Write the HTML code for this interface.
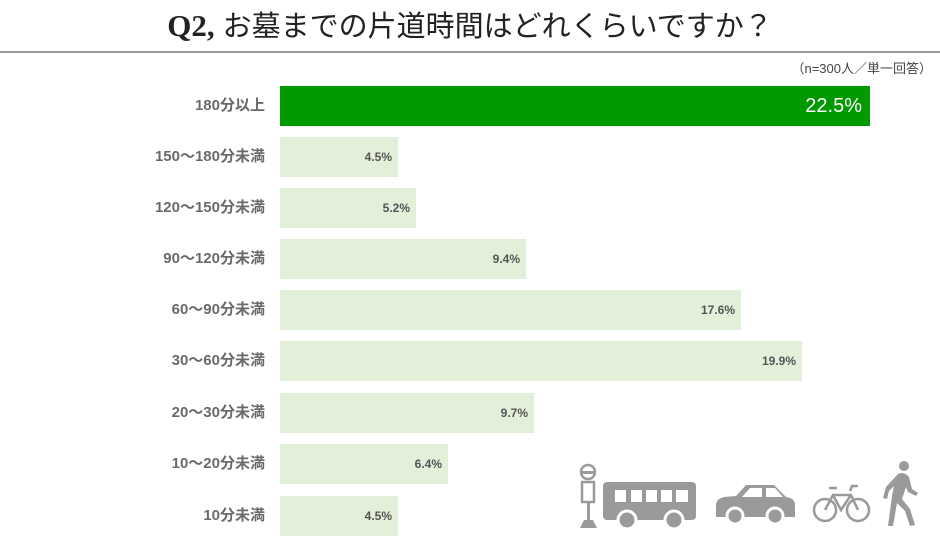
<!DOCTYPE html>
<html><head><meta charset="utf-8"><style>
body{margin:0;width:940px;height:546px;background:#fff;position:relative;overflow:hidden;font-family:"Liberation Sans","Noto Sans CJK JP",sans-serif}
.t{position:absolute;top:3px;left:0;width:940px;text-align:center;font-size:29px;color:#222;font-family:"Liberation Sans","Noto Sans CJK JP",sans-serif}
.t b{font-family:"Liberation Serif",serif;font-size:31px}
.hr{position:absolute;top:51px;left:0;width:940px;height:2px;background:#999}
.n{position:absolute;top:58px;right:8px;font-size:13px;color:#444}
.l{position:absolute;left:0;width:265px;text-align:right;font-size:15px;font-weight:bold;color:#6a6a6a;line-height:40px}
.b{position:absolute;left:280px;height:40px;background:#e2efd9;text-align:right;font-size:12px;font-weight:bold;color:#555;line-height:40px;box-sizing:border-box;padding-right:6px}
.g{background:#009900;color:#fff;font-size:20px;font-weight:normal;padding-right:8px}
</style></head><body>
<div class="t"><b>Q2,</b> お墓までの片道時間はどれくらいですか？</div>
<div class="hr"></div>
<div class="n">（n=300人／単一回答）</div>
<div class="l" style="top:86px">180分以上</div><div class="b g" style="top:86px;width:590px">22.5%</div>
<div class="l" style="top:137px">150～180分未満</div><div class="b" style="top:137px;width:118px">4.5%</div>
<div class="l" style="top:188px">120～150分未満</div><div class="b" style="top:188px;width:136px">5.2%</div>
<div class="l" style="top:239px">90～120分未満</div><div class="b" style="top:239px;width:246px">9.4%</div>
<div class="l" style="top:290px">60～90分未満</div><div class="b" style="top:290px;width:461px">17.6%</div>
<div class="l" style="top:341px">30～60分未満</div><div class="b" style="top:341px;width:522px">19.9%</div>
<div class="l" style="top:393px">20～30分未満</div><div class="b" style="top:393px;width:254px">9.7%</div>
<div class="l" style="top:444px">10～20分未満</div><div class="b" style="top:444px;width:168px">6.4%</div>
<div class="l" style="top:496px">10分未満</div><div class="b" style="top:496px;width:118px">4.5%</div>
<svg style="position:absolute;left:0;top:0" width="940" height="546" fill="#9a9a9a" stroke="none">
<circle cx="588" cy="472" r="7" fill="none" stroke="#9a9a9a" stroke-width="2.5"/>
<rect x="581" y="471" width="14" height="3"/>
<rect x="582" y="482" width="12" height="20" fill="none" stroke="#9a9a9a" stroke-width="2.5"/>
<rect x="587" y="502" width="3" height="20"/>
<path d="M580 528 L584 520 L593 520 L597 528Z"/>
<path d="M607 482 h85 a4 4 0 0 1 4 4 v30 a4 4 0 0 1 -4 4 h-85 a4 4 0 0 1 -4 -4 v-30 a4 4 0 0 1 4 -4z"/>
<g fill="#fff"><rect x="615" y="490" width="11" height="12"/><rect x="631" y="490" width="11" height="12"/><rect x="646" y="490" width="11" height="12"/><rect x="661" y="490" width="11" height="12"/><rect x="676" y="490" width="12" height="12"/></g>
<circle cx="627" cy="520" r="9" stroke="#fff" stroke-width="3"/><circle cx="674" cy="520" r="9" stroke="#fff" stroke-width="3"/>
<path d="M716 505 q0-6 8-8 l12-1 l10-11 h28 l12 12 q9 1 9 8 v12 h-79z"/>
<path d="M742 497 l8-9 h12 v9z M766 488 h9 l8 9 h-17z" fill="#fff"/>
<circle cx="735" cy="516" r="8" stroke="#fff" stroke-width="3"/><circle cx="775" cy="516" r="8" stroke="#fff" stroke-width="3"/>
<g fill="none" stroke="#9a9a9a" stroke-width="2.5"><circle cx="825" cy="510" r="11"/><circle cx="858" cy="510" r="11"/><path d="M825 510 l8-15 h18 l7 15 M833 495 l8 15 l10-15 M829 488 h8 M850 491 l2-5 h6"/></g>
<circle cx="904" cy="466" r="5"/>
<path d="M898 474 q6-3 11 3 l3 12 l6 4 l-2 3 l-8-4 l-2-5 l-4 12 l8 10 l5 16 l-5 1 l-5-15 l-8-8 l-4 23 l-5 0 l4-30 l2-10 l-5 5 l-2 8 l-4-1 l3-11z"/>
</svg>
</body></html>
